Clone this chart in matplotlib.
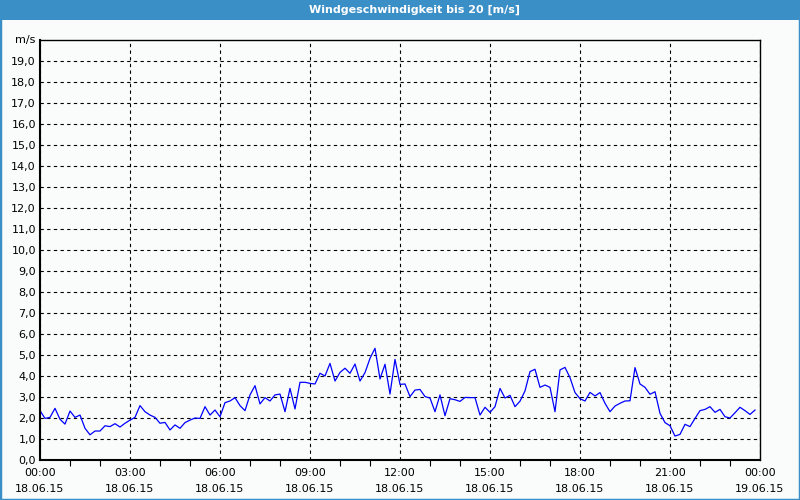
#! /usr/bin/env python3
#
# Windgeschwindigkeit 18.06.15, 10-Minuten-Werte, nachgebaut als matplotlib-Plot.
#

import numpy as np
import matplotlib
matplotlib.use('agg')
import matplotlib.pyplot as plt
from matplotlib.patches import Rectangle

##############
## SETTINGS ##
##############

title = "Windgeschwindigkeit bis 20 [m/s]"
unit = "m/s"
fontsize = 8
bgcolor = '#fafcfc'
framecolor = '#3b8fc7'

## Daten: Stunden seit 18.06.15 00:00, alle 10 Minuten
step_h = 1.0 / 6.0
wind = [2.35, 1.98, 2.03, 2.46, 1.94, 1.71, 2.33, 2.03, 2.14, 1.51, 1.20, 1.38,
        1.38, 1.63, 1.59, 1.73, 1.57, 1.75, 1.90, 2.03, 2.59, 2.30, 2.14, 2.03,
        1.75, 1.79, 1.43, 1.67, 1.51, 1.78, 1.90, 2.00, 1.98, 2.54, 2.14, 2.38,
        2.06, 2.73, 2.81, 2.97, 2.59, 2.35, 3.10, 3.54, 2.67, 2.97, 2.81, 3.10,
        3.14, 2.30, 3.41, 2.43, 3.70, 3.70, 3.65, 3.62, 4.13, 4.00, 4.60, 3.76,
        4.17, 4.37, 4.13, 4.57, 3.76, 4.16, 4.84, 5.32, 3.86, 4.56, 3.14, 4.79,
        3.60, 3.62, 3.02, 3.33, 3.36, 3.02, 2.95, 2.30, 3.10, 2.11, 2.92, 2.87,
        2.79, 2.98, 2.97, 2.97, 2.14, 2.51, 2.27, 2.54, 3.41, 2.95, 3.08, 2.54,
        2.80, 3.29, 4.21, 4.32, 3.46, 3.57, 3.46, 2.30, 4.29, 4.41, 3.92, 3.21,
        2.92, 2.81, 3.22, 3.05, 3.21, 2.70, 2.30, 2.57, 2.70, 2.81, 2.82, 4.40,
        3.62, 3.46, 3.13, 3.25, 2.22, 1.78, 1.63, 1.14, 1.22, 1.70, 1.59, 1.98,
        2.35, 2.41, 2.54, 2.27, 2.41, 2.06, 2.00, 2.25, 2.51, 2.35, 2.17, 2.38]
t = np.arange(len(wind)) * step_h

xticks = [0, 3, 6, 9, 12, 15, 18, 21, 24]
xticklabels = ["00:00\n18.06.15", "03:00\n18.06.15", "06:00\n18.06.15",
               "09:00\n18.06.15", "12:00\n18.06.15", "15:00\n18.06.15",
               "18:00\n18.06.15", "21:00\n18.06.15", "00:00\n19.06.15"]
yticks = list(range(0, 20))
yticklabels = ["%d,0" % v for v in yticks]

##############
## Plotting ##
##############

fig = plt.figure(figsize=(8, 5), dpi=100, facecolor=bgcolor)

# Fensterrahmen + Titelleiste
fig.patches.append(Rectangle((0, 0), 1, 1, transform=fig.transFigure,
                             fill=False, edgecolor=framecolor, linewidth=2.5))
fig.patches.append(Rectangle((0, 1 - 20 / 500.), 1, 20 / 500., transform=fig.transFigure,
                             facecolor=framecolor, edgecolor='none'))
fig.text(0.518, 1 - 10 / 500., title, color='white', fontsize=fontsize,
         fontweight='bold', ha='center', va='center')

ax = fig.add_axes([0.05, 0.08, 0.90, 0.84])
ax.set_facecolor(bgcolor)
ax.plot(t, wind, color='#0000ff', linewidth=0.9)

ax.set_xlim(0, 24)
ax.set_ylim(0, 20)
ax.set_xticks(xticks)
ax.set_xticklabels(xticklabels, fontsize=fontsize, linespacing=1.75)
ax.set_xticks(range(0, 25), minor=True)
ax.set_yticks(yticks)
ax.set_yticklabels(yticklabels, fontsize=fontsize)
ax.tick_params(axis='y', length=0, pad=3)
ax.tick_params(axis='x', which='major', length=0, pad=6)
ax.tick_params(axis='x', which='minor', length=4, width=0.8, direction='out')

ax.grid(True, which='major', color='k', linestyle=(0, (3, 3)), linewidth=0.8)

for side in ('left', 'bottom'):
    ax.spines[side].set_linewidth(1.5)
for side in ('top', 'right'):
    ax.spines[side].set_linewidth(1.0)

ax.text(-0.006, 1.0, unit, transform=ax.transAxes, fontsize=fontsize,
        ha='right', va='center')

fig.savefig("out.png", dpi=100, facecolor=bgcolor)

# EOF
